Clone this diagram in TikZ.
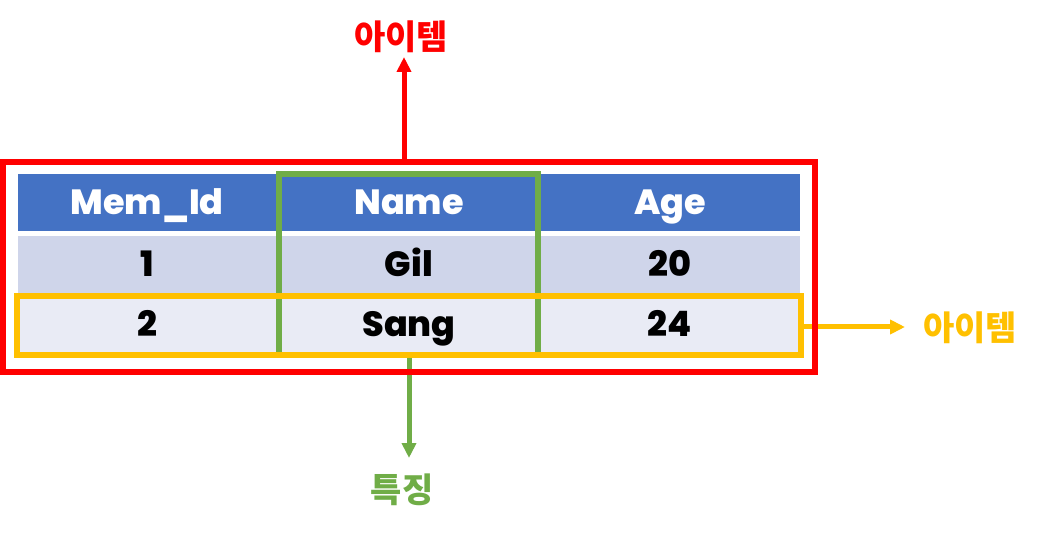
\documentclass[tikz,border=0pt]{standalone}
\usepackage{fontspec}
\setmainfont{Poppins}[BoldFont={Poppins ExtraBold}]
\newfontfamily\kr{Noto Sans CJK KR}[BoldFont={Noto Sans CJK KR Black}]
\usetikzlibrary{arrows.meta}
\definecolor{hdr}{HTML}{4472C4}
\definecolor{rowa}{HTML}{CFD5EA}
\definecolor{rowb}{HTML}{E9EBF5}
\definecolor{redc}{HTML}{FF0000}
\definecolor{greenc}{HTML}{70AD47}
\definecolor{yellowc}{HTML}{FFC000}
\begin{document}
\begin{tikzpicture}[x=1pt,y=-1pt,
  cell/.style={minimum width=259pt, minimum height=57pt, inner sep=0pt,
    text height=25pt, text depth=0pt, font=\fontsize{35}{35}\selectfont\bfseries},
  headcell/.style={cell, fill=hdr, text=white},
  rowacell/.style={cell, fill=rowa, text=black},
  rowbcell/.style={cell, fill=rowb, text=black, minimum height=56pt},
  frame/.style={draw, fill=none, inner sep=0pt, line width=5.5pt},
  lbl/.style={inner sep=0pt, font=\kr\bfseries\fontsize{34}{34}\selectfont},
  arr/.style={line width=5pt, -{Triangle[length=15pt,width=14pt]}}
]
\useasboundingbox (0,0) rectangle (1044,534);
% header
\node[headcell] (h1) at (147,202.5) {Mem\_Id};
\node[headcell] (h2) at (409,202.5) {Name};
\node[headcell] (h3) at (670,202.5) {Age};
% row 1
\node[rowacell] (a1) at (147,264.5) {1};
\node[rowacell] (a2) at (409,264.5) {Gil};
\node[rowacell] (a3) at (670,264.5) {20};
% row 2
\node[rowbcell] (b1) at (147,324) {2};
\node[rowbcell] (b2) at (409,324) {Sang};
\node[rowbcell] (b3) at (670,324) {24};
% column frame (green)
\node[frame, draw=greenc, minimum width=259pt, minimum height=181pt] (col) at (408.5,264.5) {};
% row frame (yellow)
\node[frame, draw=yellowc, line width=6pt, minimum width=784pt, minimum height=59pt] (row) at (409,325.5) {};
% labels
\node[lbl, text=redc] (rlabel) at (401,37) {아이템};
\node[lbl, text=greenc] (glabel) at (402,490) {특징};
\node[lbl, text=yellowc] (ylabel) at (970,328) {아이템};
% arrow ends
\coordinate (rtop) at (404,162);
\coordinate (rtip) at (404,57);
\coordinate (gtip) at (409,458);
\coordinate (ytip) at (905,327);
% arrows
\draw[arr, draw=greenc, fill=greenc] (row.south -| gtip) -- (gtip);
\draw[arr, draw=yellowc, fill=yellowc] (row.east |- ytip) -- (ytip);
% table frame (red)
\node[frame, draw=redc, minimum width=812pt, minimum height=210pt] (table) at (409,267) {};
\draw[arr, draw=redc, fill=redc] (rtop) -- (rtip);
\end{tikzpicture}
\end{document}
